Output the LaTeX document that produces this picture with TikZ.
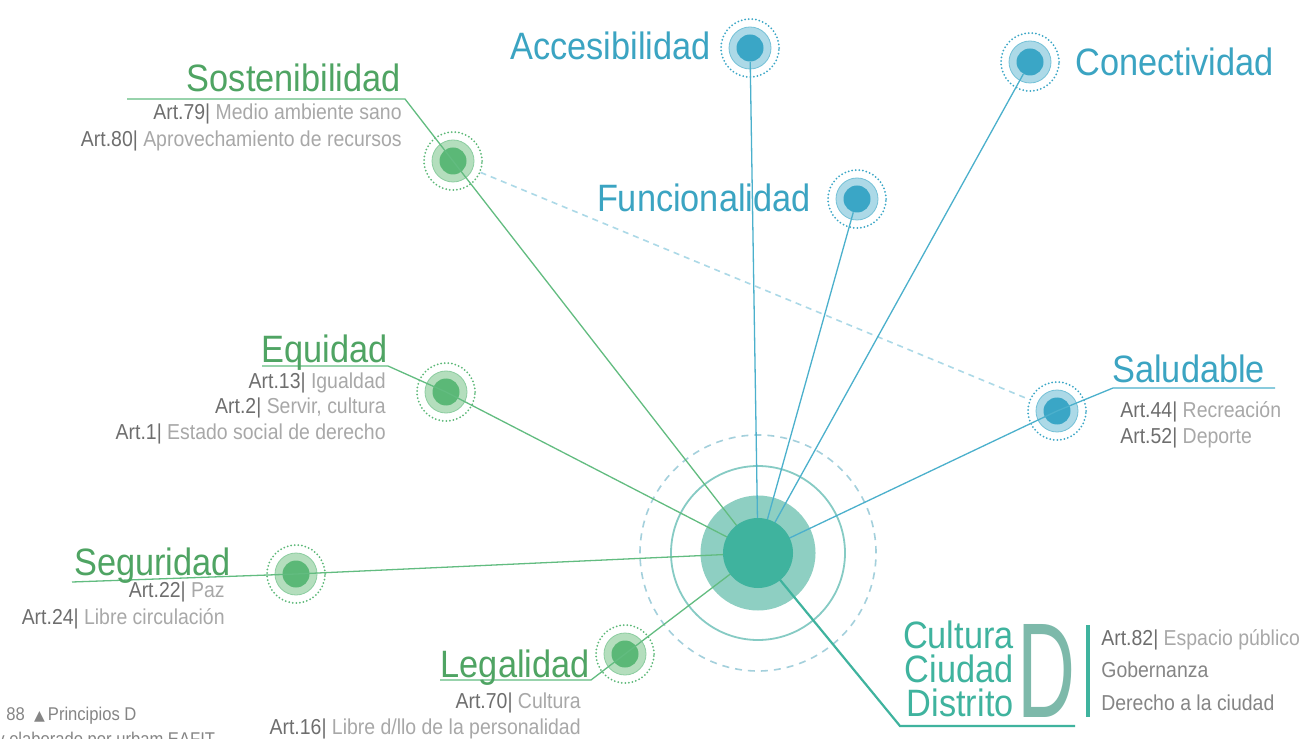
\documentclass[tikz,border=0pt]{standalone}
\usepackage{fontspec}
\setmainfont[FakeStretch=0.9]{Liberation Sans}
\newfontfamily\dejavu{DejaVu Sans}
\newlength\px
\setlength\px{0.02cm}
\definecolor{gdark}{HTML}{5BB877}
\definecolor{glight}{HTML}{B4DEBD}
\definecolor{gline}{HTML}{62BC80}
\definecolor{gtext}{HTML}{4FA463}
\definecolor{bdark}{HTML}{3AA6C6}
\definecolor{blight}{HTML}{ACD9E7}
\definecolor{bline}{HTML}{4BB0CC}
\definecolor{btext}{HTML}{3BA4C2}
\definecolor{tdark}{HTML}{3FB39E}
\definecolor{tlight}{HTML}{8ECFC2}
\definecolor{tring}{HTML}{86CBC4}
\definecolor{tdash}{HTML}{A4D0DC}
\definecolor{dcol}{HTML}{7DB9AA}
\definecolor{artd}{HTML}{6E6E6E}
\definecolor{artl}{HTML}{A8A8A8}
\definecolor{midg}{HTML}{858585}
\newcommand\artl[2]{{\color{artd}Art.#1|} #2}
\newcommand\satnode[3]{%
  \draw[#3dark, line width=2\px, dash pattern=on 0pt off 3.6\px, line cap=round] (#2) circle (29\px);
  \fill[#3light] (#2) circle (21\px);
  \draw[#3dark!70, line width=0.8\px] (#2) circle (21\px);
  \node[satin, fill=#3dark] (#1) at (#2) {};
}
\tikzset{
  satin/.style={circle, minimum size=27\px, inner sep=0pt},
  ttl/.style={font=\fontsize{21.7}{26}\selectfont, inner sep=0pt},
  gttl/.style={ttl, text=gtext},
  bttl/.style={ttl, text=btext},
  arttxt/.style={font=\fontsize{12.3}{15}\selectfont, inner sep=0pt, text=artl},
  glink/.style={gline, line width=1.3\px},
  blink/.style={bline, line width=1.3\px},
}
\begin{document}
\begin{tikzpicture}[x=0.02cm, y=-0.02cm]
\useasboundingbox (0,0) rectangle (1307,739);
\fill[white] (0,0) rectangle (1307,739);

% centre rings
\coordinate (c0) at (758,553);
\draw[tdash, line width=1.6\px, dash pattern=on 7\px off 6\px] (c0) circle (118\px);
\draw[tring, line width=1.8\px] (c0) circle (87\px);
\fill[tlight] (c0) circle (57.5\px);

% satellites
\satnode{acc}{750,48}{b}
\satnode{con}{1030,62}{b}
\satnode{fun}{857,199}{b}
\satnode{sal}{1057,411}{b}
\satnode{sost}{453,161}{g}
\satnode{eq}{446,392}{g}
\satnode{seg}{296,574}{g}
\satnode{leg}{625,654}{g}

% bend points of the underlines
\coordinate (sostU) at (405,99);  \coordinate (sostL) at (127,99);
\coordinate (eqU) at (388,366);   \coordinate (eqL) at (262,366);
\coordinate (segL) at (72,582);
\coordinate (legU) at (591,680);  \coordinate (legL) at (440,680);
\coordinate (salU) at (1113,388); \coordinate (salL) at (1275,388);
\coordinate (cuU) at (900,726);   \coordinate (cuL) at (1075,726);

% dashed link
\draw[blight, line width=1.6\px, dash pattern=on 6\px off 5\px, shorten <=16\px, shorten >=16\px] (sost) -- (sal);

% links
\draw[blink] (c0) -- (acc);
\draw[blink] (c0) -- (con);
\draw[blink] (c0) -- (fun);
\draw[blink] (c0) -- (sal.center) -- (salU) -- (salL);
\draw[glink] (c0) -- (sost.center) -- (sostU) -- (sostL);
\draw[glink] (c0) -- (eq.center) -- (eqU) -- (eqL);
\draw[glink] (c0) -- (seg.center) -- (segL);
\draw[glink] (c0) -- (leg.center) -- (legU) -- (legL);
\draw[tdark, line width=2.2\px] (c0) -- (cuU) -- (cuL);

% centre disc
\node[circle, fill=tdark, minimum size=70\px, inner sep=0pt] (c) at (c0) {};

% titles
\node[bttl, anchor=base east] (accT) at (711,60) {Accesibilidad};
\node[bttl, anchor=base west] (conT) at (1075,76) {Conectividad};
\node[bttl, anchor=base east] (funT) at (811,212) {Funcionalidad};
\node[bttl, anchor=base west] (salT) at (1112,382) {Saludable};
\node[gttl, anchor=base east] (sostT) at (401,92) {Sostenibilidad};
\node[gttl, anchor=base east] (eqT) at (388,363) {Equidad};
\node[gttl, anchor=base east] (segT) at (231,575) {Seguridad};
\node[gttl, anchor=base east] (legT) at (590,677) {Legalidad};

% article lines
\node[arttxt, anchor=base east] (s1) at (402,120) {\artl{79}{Medio ambiente sano}};
\node[arttxt, anchor=base east] (s2) at (402,147) {\artl{80}{Aprovechamiento de recursos}};
\node[arttxt, anchor=base east] (e1) at (386,389) {\artl{13}{Igualdad}};
\node[arttxt, anchor=base east] (e2) at (386,414) {\artl{2}{Servir, cultura}};
\node[arttxt, anchor=base east] (e3) at (386,439) {\artl{1}{Estado social de derecho}};
\node[arttxt, anchor=base east] (g1) at (225,597) {\artl{22}{Paz}};
\node[arttxt, anchor=base east] (g2) at (225,624) {\artl{24}{Libre circulación}};
\node[arttxt, anchor=base east] (l1) at (581,708) {\artl{70}{Cultura}};
\node[arttxt, anchor=base east] (l2) at (581,734) {\artl{16}{Libre d/llo de la personalidad}};
\node[arttxt, anchor=base west] (h1) at (1120,418) {\artl{44}{Recreación}};
\node[arttxt, anchor=base west] (h2) at (1120,443) {\artl{52}{Deporte}};

% Cultura Ciudad Distrito block
\node[ttl, text=tdark, anchor=base east] (cu1) at (1014,648) {Cultura};
\node[ttl, text=tdark, anchor=base east] (cu2) at (1014,682) {Ciudad};
\node[ttl, text=tdark, anchor=base east] (cu3) at (1014,716) {Distrito};
\node[inner sep=0pt, text=dcol, anchor=base west] (bigD) at (1017,717) {\resizebox{58\px}{93\px}{D}};
\fill[tdark] (1086,625) rectangle (1090,717);
\node[arttxt, anchor=base west] (d1) at (1101,645) {\artl{82}{Espacio público}};
\node[arttxt, text=midg, anchor=base west] (d2) at (1101,677) {Gobernanza};
\node[arttxt, text=midg, anchor=base west] (d3) at (1101,710) {Derecho a la ciudad};

% footer
\node[inner sep=0pt, anchor=base west, text=midg, font=\fontsize{10.5}{12}\selectfont] (ft1) at (6,720) {88\enspace{\dejavu\fontsize{8}{9}\selectfont ▲}\,Principios D};
\node[inner sep=0pt, anchor=base west, text=midg, font=\fontsize{10.5}{12}\selectfont] (ft2) at (-4,745) {y elaborado por urbam EAFIT};
\end{tikzpicture}
\end{document}
